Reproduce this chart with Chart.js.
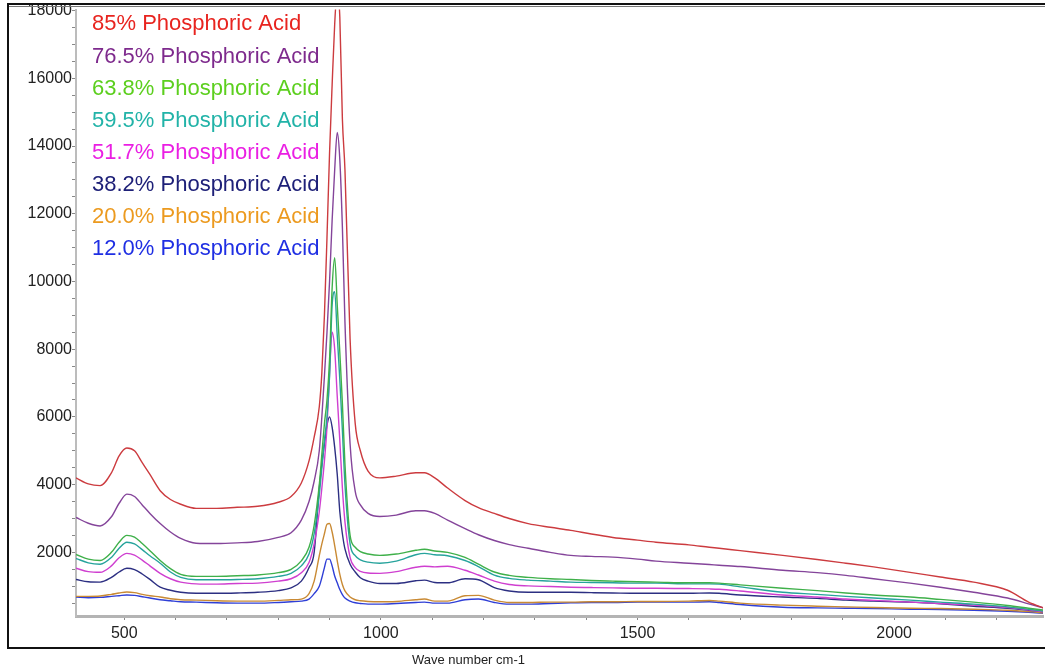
<!DOCTYPE html>
<html>
<head>
<meta charset="utf-8">
<script src="https://cdn.jsdelivr.net/npm/chart.js@4/dist/chart.umd.min.js"></script>
<style>
  html, body { margin: 0; padding: 0; background: #fff; }
  #wrap { width: 1045px; height: 671px; }
</style>
</head>
<body>
<div id="wrap"><canvas id="myChart" width="1045" height="671"></canvas></div>
<script>
// wave numbers (cm-1) shared by every spectrum
const wavenumbers = [406, 430, 453, 475, 490, 505, 520, 535, 550, 570, 590, 610, 640, 680, 720, 760, 800, 825, 845, 860,
  870, 880, 885, 890, 895, 900, 905, 910, 915, 920, 925, 930, 940, 950, 960, 975, 998, 1030, 1068, 1085,
  1105, 1130, 1164, 1190, 1221, 1250, 1287, 1330, 1370, 1410, 1452, 1500, 1536, 1600, 1640, 1659, 1700, 1783, 1850, 1906,
  1960, 2031, 2090, 2155, 2221, 2262, 2293];

const acid85 = [4200, 4020, 3970, 4350, 4850, 5080, 5000, 4650, 4300, 3820, 3560, 3420, 3300, 3300, 3330, 3360, 3480, 3650, 4050, 4700,
  5400, 6300, 7300, 9000, 11300, 13800, 15800, 17600, 18600, 17800, 14800, 13300, 8300, 5800, 5000, 4400, 4200, 4250, 4350, 4350,
  4200, 3900, 3530, 3320, 3150, 3000, 2850, 2740, 2650, 2540, 2440, 2360, 2300, 2220, 2150, 2120, 2050, 1910, 1790, 1680,
  1570, 1410, 1270, 1120, 880, 530, 350];
const acid765 = [3030, 2860, 2780, 3050, 3450, 3720, 3650, 3400, 3150, 2850, 2600, 2410, 2270, 2260, 2280, 2320, 2440, 2580, 2950, 3500,
  4100, 5000, 6000, 7200, 8500, 10000, 11800, 13300, 14400, 13600, 11600, 8800, 5200, 3800, 3400, 3150, 3060, 3100, 3230, 3230,
  3150, 2950, 2700, 2520, 2350, 2230, 2120, 2000, 1910, 1880, 1860, 1800, 1740, 1680, 1640, 1620, 1580, 1470, 1400, 1320,
  1220, 1090, 970, 820, 650, 480, 350];
const acid638 = [1940, 1800, 1760, 2000, 2300, 2500, 2450, 2260, 2050, 1760, 1520, 1350, 1290, 1290, 1310, 1330, 1400, 1500, 1750, 2150,
  2800, 4000, 4900, 5800, 6500, 7700, 9800, 10700, 9300, 7900, 6400, 4600, 2500, 2150, 2020, 1950, 1910, 1950, 2060, 2090,
  2040, 2000, 1850, 1650, 1420, 1320, 1260, 1220, 1200, 1170, 1150, 1130, 1120, 1100, 1100, 1090, 1040, 940, 870, 800,
  740, 680, 610, 530, 430, 350, 290];
const acid595 = [1820, 1690, 1650, 1850, 2120, 2300, 2250, 2080, 1900, 1680, 1420, 1260, 1190, 1190, 1200, 1220, 1290, 1380, 1600, 1950,
  2550, 3700, 4500, 5300, 6000, 7200, 9300, 9700, 8400, 7100, 5600, 4000, 2250, 1900, 1780, 1710, 1680, 1740, 1930, 1970,
  1930, 1900, 1760, 1580, 1330, 1230, 1180, 1150, 1120, 1110, 1100, 1090, 1090, 1070, 1070, 1060, 980, 820, 760, 700,
  650, 590, 530, 470, 390, 320, 260];
const acid517 = [1530, 1430, 1410, 1600, 1840, 1970, 1920, 1770, 1600, 1380, 1220, 1120, 1070, 1060, 1080, 1090, 1150, 1220, 1400, 1700,
  2250, 3200, 3900, 4700, 5700, 7300, 8500, 8000, 6600, 5300, 3900, 2900, 1850, 1550, 1440, 1390, 1380, 1430, 1560, 1590,
  1570, 1590, 1470, 1330, 1150, 1050, 1010, 990, 970, 960, 950, 940, 940, 930, 920, 910, 860, 740, 680, 620,
  580, 530, 490, 440, 370, 300, 240];
const acid382 = [1200, 1130, 1120, 1260, 1420, 1530, 1490, 1360, 1200, 970, 880, 820, 790, 790, 800, 820, 870, 950, 1150, 1550,
  2000, 3900, 4600, 5200, 5750, 6000, 5700, 5100, 4300, 3200, 2550, 2100, 1650, 1420, 1250, 1150, 1080, 1080, 1160, 1180,
  1110, 1100, 1220, 1190, 960, 860, 820, 820, 820, 810, 800, 790, 790, 790, 800, 790, 740, 680, 640, 590,
  560, 530, 480, 410, 350, 290, 240];
const acid200 = [700, 700, 710, 760, 800, 830, 810, 760, 720, 680, 630, 600, 590, 570, 560, 560, 580, 600, 620, 780,
  1150, 1900, 2250, 2550, 2830, 2850, 2600, 2200, 1750, 1350, 1050, 860, 680, 600, 570, 550, 540, 550, 600, 620,
  560, 560, 720, 730, 590, 520, 520, 530, 530, 540, 540, 550, 550, 560, 580, 560, 500, 440, 410, 390,
  370, 350, 340, 320, 290, 250, 210];
const acid120 = [680, 660, 670, 700, 720, 740, 730, 690, 650, 600, 570, 540, 530, 510, 500, 500, 520, 540, 560, 620,
  780, 1000, 1250, 1550, 1800, 1800, 1600, 1300, 1100, 900, 750, 650, 560, 510, 490, 470, 470, 490, 520, 530,
  500, 500, 600, 620, 520, 470, 470, 490, 510, 520, 520, 530, 530, 530, 540, 520, 460, 380, 360, 350,
  340, 320, 310, 290, 260, 230, 200];

const seriesLabels = ['85% Phosphoric Acid', '76.5% Phosphoric Acid', '63.8% Phosphoric Acid', '59.5% Phosphoric Acid',
  '51.7% Phosphoric Acid', '38.2% Phosphoric Acid', '20.0% Phosphoric Acid', '12.0% Phosphoric Acid'];
const seriesValues = [acid85, acid765, acid638, acid595, acid517, acid382, acid200, acid120];

const xTicks = [500, 1000, 1500, 2000];
const yTicks = [2000, 4000, 6000, 8000, 10000, 12000, 14000, 16000, 18000];

// styles
const lineColors = ['#cc3b3f', '#84449a', '#3fb04a', '#26a39c', '#cf3fd0', '#2c2f82', '#c98a34', '#2f3fd6'];
const textColors = ['#e8241f', '#7e2a8d', '#5ccf1e', '#22b3a8', '#ea1fe3', '#1e2078', '#ec9a1f', '#1f2fe3'];
const legendY = [24, 57, 89, 121, 153, 185, 217, 249];

const datasets = seriesValues.map((vals, k) => ({
  label: seriesLabels[k],
  data: wavenumbers.map((w, i) => ({ x: w, y: vals[i] })),
  borderColor: lineColors[k],
  borderWidth: 1.4,
  pointRadius: 0,
  cubicInterpolationMode: 'monotone',
  fill: false
}));

const framePlugin = {
  id: 'framePlugin',
  afterDatasetsDraw(chart) {
    const ctx = chart.ctx;
    ctx.save();
    ctx.textBaseline = 'middle';
    ctx.textAlign = 'left';
    ctx.font = '22px "Liberation Sans", Arial, sans-serif';
    chart.data.datasets.forEach((ds, k) => {
      ctx.fillStyle = textColors[k];
      ctx.fillText(ds.label, 92, legendY[k]);
    });
    ctx.restore();
  },
  afterDraw(chart) {
    const ctx = chart.ctx;
    ctx.save();
    ctx.strokeStyle = '#111';
    ctx.lineWidth = 2;
    ctx.beginPath();
    ctx.moveTo(8, 4);
    ctx.lineTo(1045, 4);
    ctx.moveTo(8, 3);
    ctx.lineTo(8, 648);
    ctx.lineTo(1045, 648);
    ctx.stroke();
    ctx.strokeStyle = '#777';
    ctx.lineWidth = 1;
    ctx.beginPath();
    ctx.moveTo(9, 6.5);
    ctx.lineTo(1045, 6.5);
    ctx.stroke();
    ctx.fillStyle = '#222';
    ctx.font = '13px "Liberation Sans", Arial, sans-serif';
    ctx.textBaseline = 'middle';
    ctx.textAlign = 'left';
    ctx.fillText('Wave number cm-1', 412, 660);
    ctx.restore();
  }
};

const ctx = document.getElementById('myChart').getContext('2d');
const myChart = new Chart(ctx, {
  type: 'line',
  data: { datasets: datasets },
  options: {
    responsive: false,
    animation: false,
    layout: { padding: { left: 0, right: 2, top: 8, bottom: 0 } },
    plugins: { legend: { display: false }, tooltip: { enabled: false } },
    scales: {
      x: {
        type: 'linear',
        min: 406,
        max: 2290,
        afterFit: (scale) => { scale.height = 55; },
        afterBuildTicks: (scale) => {
          const t = [];
          for (let v = 500; v <= 2200; v += 100) t.push({ value: v });
          scale.ticks = t;
        },
        ticks: {
          autoSkip: false,
          maxRotation: 0,
          padding: 4,
          color: '#222',
          font: { family: '"Liberation Sans", Arial, sans-serif', size: 16 },
          callback: (v) => xTicks.includes(v) ? String(v) : ''
        },
        grid: { drawOnChartArea: false, drawTicks: true, tickLength: 4, color: '#888' },
        border: { color: '#b4b4b4', width: 3 }
      },
      y: {
        type: 'linear',
        min: 120,
        max: 18030,
        afterFit: (scale) => { scale.width = 76; },
        afterBuildTicks: (scale) => {
          const t = [];
          for (let v = 500; v <= 18000; v += 500) t.push({ value: v });
          scale.ticks = t;
        },
        ticks: {
          autoSkip: false,
          padding: 0,
          color: '#222',
          font: { family: '"Liberation Sans", Arial, sans-serif', size: 16 },
          callback: (v) => yTicks.includes(v) ? String(v) : ''
        },
        grid: { drawOnChartArea: false, drawTicks: true, tickLength: 4, color: '#888' },
        border: { color: '#bcbcbc', width: 2 }
      }
    }
  },
  plugins: [framePlugin]
});
</script>
</body>
</html>
